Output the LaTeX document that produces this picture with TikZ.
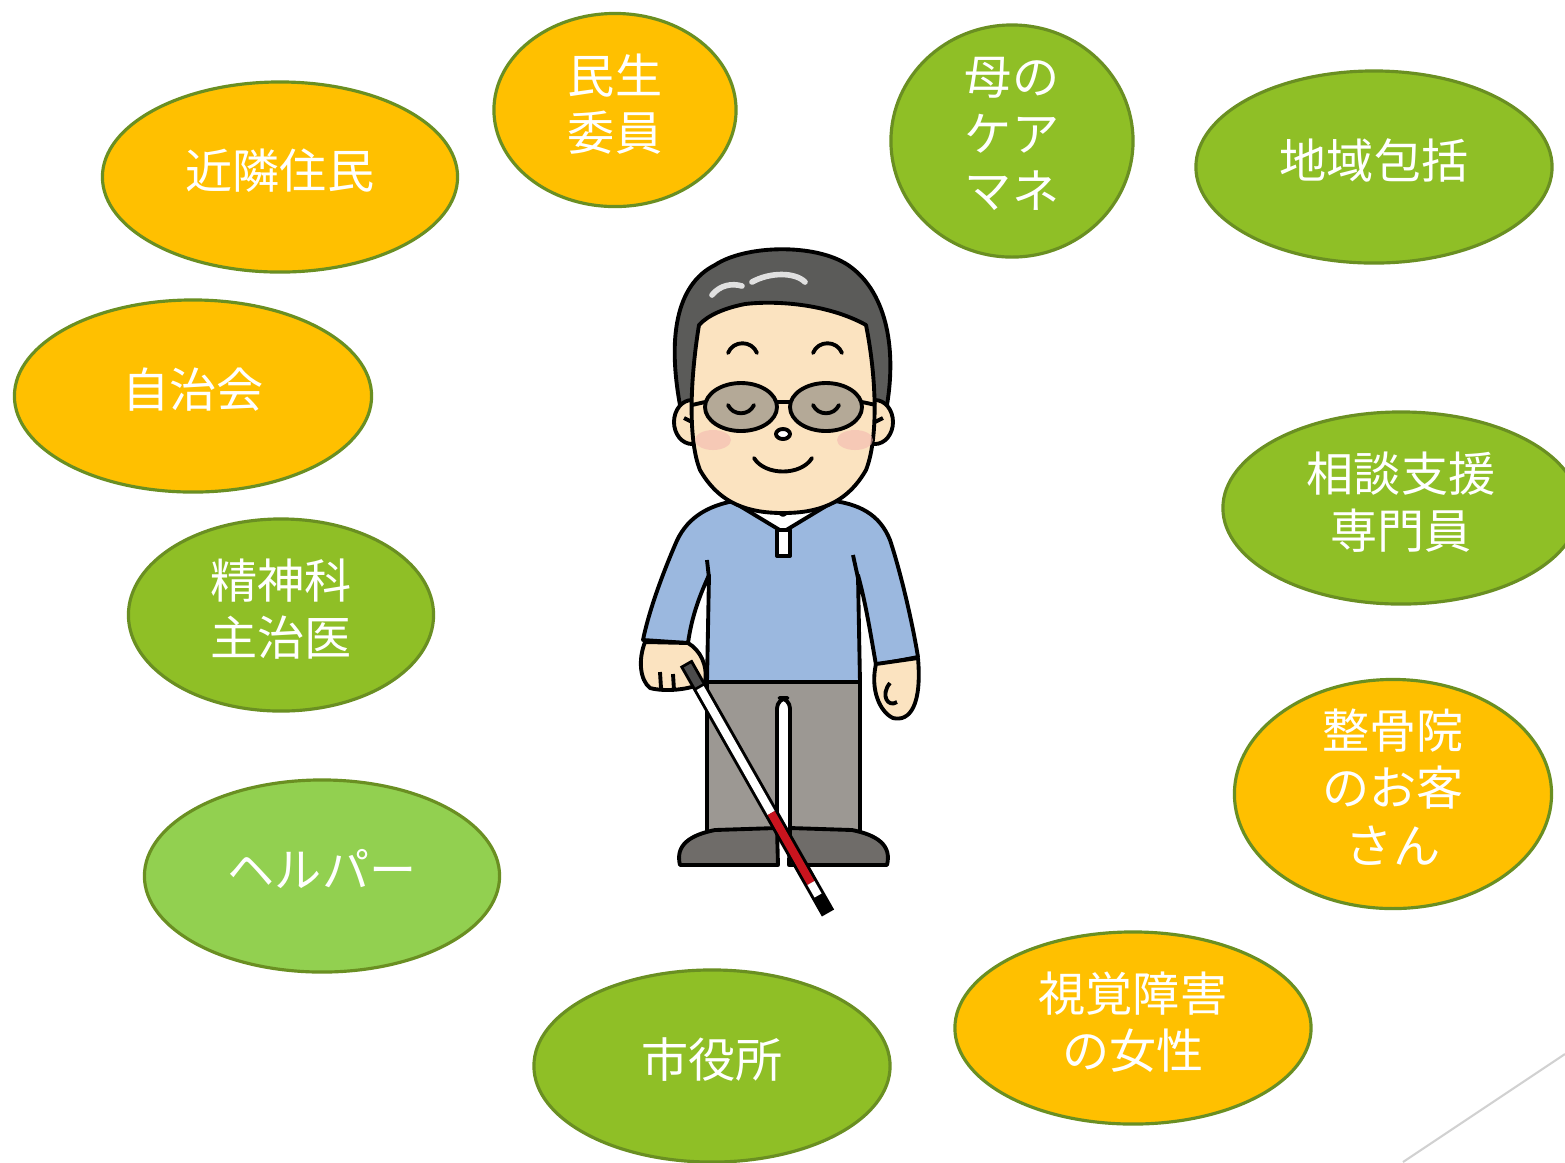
\documentclass[tikz,border=0pt]{standalone}
\usepackage{fontspec}
\newfontfamily\jpfont{Noto Sans CJK JP}
\usetikzlibrary{shapes.geometric,calc}
\definecolor{leaf}{HTML}{8FBF26}
\definecolor{amber}{HTML}{FFC000}
\definecolor{lime}{HTML}{92D050}
\definecolor{rim}{HTML}{6A8F22}
\definecolor{skin}{HTML}{FBE3C0}
\definecolor{shirt}{HTML}{9BB8DF}
\definecolor{trousers}{HTML}{9C9893}
\definecolor{hair}{HTML}{5B5B59}
\definecolor{shoe}{HTML}{6F6C69}
\definecolor{lens}{HTML}{A89F90}
\definecolor{cheek}{HTML}{F4B8B0}
\definecolor{canered}{HTML}{C8141E}

\begin{document}
\begin{tikzpicture}[x=0.01cm, y=-0.01cm, line join=round,
    bubble/.style={ellipse, draw=rim, line width=0.9pt, text=white, align=center,
      inner sep=0pt, text depth=0.16cm, font=\jpfont\fontsize{13.4}{16.3}\selectfont},
    tall/.style={inner ysep=-0.05cm},
    ink/.style={draw=black, line width=1.1pt}]
    \useasboundingbox (0,0) rectangle (1565,1162);
    \clip (0,0) rectangle (1565,1162);

    % people around him
    \node[bubble, fill=amber, minimum width=3.55cm, minimum height=1.90cm] (kinrin) at (280,177) {近隣住民};
    \node[bubble, fill=amber, minimum width=2.42cm, minimum height=1.93cm] (minsei) at (615,110) {民生\\委員};
    \node[bubble, tall, fill=leaf, minimum width=2.42cm, minimum height=2.32cm] (caremane) at (1012,141) {母の\\ケア\\マネ};
    \node[bubble, fill=leaf, minimum width=3.56cm, minimum height=1.92cm] (houkatsu) at (1374,167) {地域包括};
    \node[bubble, fill=amber, minimum width=3.57cm, minimum height=1.92cm] (jichikai) at (193,396) {自治会};
    \node[bubble, fill=leaf, minimum width=3.56cm, minimum height=1.92cm] (soudan) at (1401,508) {相談支援\\専門員};
    \node[bubble, fill=leaf, minimum width=3.05cm, minimum height=1.92cm] (seishin) at (281,615) {精神科\\主治医};
    \node[bubble, tall, fill=amber, minimum width=3.17cm, minimum height=2.29cm] (seikotsu) at (1393,794) {整骨院\\のお客\\さん};
    \node[bubble, fill=lime, minimum width=3.55cm, minimum height=1.92cm] (helper) at (322,876) {ヘルパー};
    \node[bubble, fill=amber, minimum width=3.56cm, minimum height=1.92cm] (shikaku) at (1133,1028) {視覚障害\\の女性};
    \node[bubble, fill=leaf, minimum width=3.56cm, minimum height=1.92cm] (shiyakusho) at (712,1066) {市役所};

    \draw[black!18, line width=0.6pt] (1403,1162) -- (1565,1054);

    % body
    \filldraw[ink, fill=shirt] (740,500) .. controls (705,505) and (685,520) .. (675,545)
      .. controls (660,580) and (648,615) .. (643,640) -- (688,643)
      .. controls (692,615) and (700,595) .. (709,575) -- (707,682) -- (860,682) -- (858,575)
      .. controls (865,600) and (870,630) .. (876,665) -- (918,657)
      .. controls (912,620) and (900,570) .. (890,540)
      .. controls (880,515) and (860,503) .. (826,500) -- cycle;
    \draw[ink] (707,560) -- (709,578);
    \draw[ink] (853,555) -- (858,578);
    \filldraw[ink, fill=white] (735,503) -- (783,532) -- (831,503) -- (815,496) -- (783,515) -- (751,496) -- cycle;
    \filldraw[ink, fill=white] (777,530) rectangle (790,556);

    \filldraw[ink, fill=trousers] (707,682) rectangle (860,835);
    \filldraw[ink, fill=white, rounded corners=3] (777,835) -- (777,698) -- (790,698) -- (790,835);

    \filldraw[ink, fill=shoe] (680,865) .. controls (675,845) and (690,835) .. (715,830) -- (777,828) -- (778,865) -- cycle;
    \filldraw[ink, fill=shoe] (887,865) .. controls (892,845) and (877,835) .. (852,830) -- (790,828) -- (789,865) -- cycle;

    % hands
    \filldraw[ink, fill=skin] (645,642) .. controls (638,660) and (640,680) .. (650,688)
      .. controls (665,692) and (690,690) .. (705,682) .. controls (708,665) and (700,650) .. (688,643) -- cycle;
    \draw[ink] (660,672) -- (661,688);
    \draw[ink] (673,674) -- (674,690);
    \filldraw[ink, fill=skin] (876,664) .. controls (870,690) and (880,712) .. (893,718)
      .. controls (910,722) and (922,705) .. (918,658) -- cycle;
    \draw[ink] (890,683) .. controls (880,695) and (888,708) .. (897,702);

    % white cane
    \coordinate (grip) at (686,663);
    \coordinate (tip) at (828,913);
    \draw[line width=4pt] (grip) -- (tip);
    \draw[white, line width=2.3pt] ($(grip)!0.1!(tip)$) -- ($(grip)!0.6!(tip)$);
    \draw[canered, line width=2.3pt] ($(grip)!0.6!(tip)$) -- ($(grip)!0.88!(tip)$);
    \draw[white, line width=2.3pt] ($(grip)!0.88!(tip)$) -- ($(grip)!0.93!(tip)$);
    \draw[black!70, line width=2.3pt] ($(grip)!0.01!(tip)$) -- ($(grip)!0.09!(tip)$);

    % head
    \filldraw[ink, fill=hair] (680,405) .. controls (668,340) and (675,285) .. (715,265)
      .. controls (745,245) and (815,243) .. (848,265) .. controls (885,290) and (897,345) .. (887,405) -- cycle;
    \filldraw[ink, fill=skin] (692,422) ellipse (18 and 22);
    \filldraw[ink, fill=skin] (875,422) ellipse (18 and 22);
    \draw[ink] (684,418) -- (696,424);
    \draw[ink] (883,418) -- (871,424);
    \filldraw[ink, fill=skin] (699,325) .. controls (690,380) and (688,440) .. (700,470)
      .. controls (720,505) and (750,513) .. (783,513) .. controls (816,513) and (846,505) .. (866,470)
      .. controls (878,440) and (877,380) .. (866,325) .. controls (830,305) and (780,300) .. (745,304)
      .. controls (725,308) and (708,315) .. (699,325) -- cycle;
    \draw[black!12, line width=1.6pt, line cap=round] (712,295) .. controls (720,285) and (732,283) .. (742,286);
    \draw[black!12, line width=1.6pt, line cap=round] (752,282) .. controls (770,272) and (795,272) .. (805,282);

    \draw[ink, line cap=round] (728,353) .. controls (733,340) and (752,340) .. (757,353);
    \draw[ink, line cap=round] (813,353) .. controls (818,340) and (837,340) .. (842,353);
    \fill[cheek, opacity=0.6] (713,440) ellipse (18 and 10);
    \fill[cheek, opacity=0.6] (855,440) ellipse (18 and 10);

    \filldraw[ink, fill=lens, fill opacity=0.85] (741,407) ellipse (36 and 24);
    \filldraw[ink, fill=lens, fill opacity=0.85] (826,407) ellipse (36 and 24);
    \draw[ink] (777,402) -- (790,402);
    \draw[ink] (705,402) -- (692,405);
    \draw[ink] (862,402) -- (876,405);
    \draw[ink, line cap=round] (728,405) .. controls (733,416) and (749,416) .. (754,405);
    \draw[ink, line cap=round] (813,405) .. controls (818,416) and (834,416) .. (839,405);

    \filldraw[ink, fill=white] (783,434) ellipse (7 and 5);
    \draw[ink, line cap=round] (754,458) .. controls (765,476) and (801,476) .. (812,458);
  \end{tikzpicture}
\end{document}
